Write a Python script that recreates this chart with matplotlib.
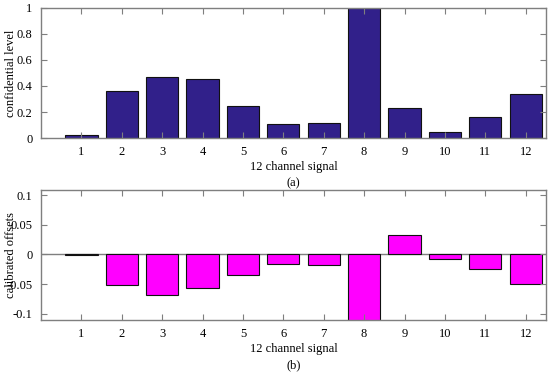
import numpy as np
import matplotlib.pyplot as plt

channels = np.arange(1, 13)
confidence = [0.02, 0.362, 0.47, 0.452, 0.244, 0.105, 0.116, 1.0, 0.231, 0.046, 0.162, 0.337]
offsets = [-0.001, -0.052, -0.068, -0.057, -0.035, -0.016, -0.017, -0.12, 0.033, -0.0073, -0.024, -0.049]

plt.rcParams['font.family'] = ['Liberation Serif', 'DejaVu Serif']
plt.rcParams['font.size'] = 9

fig = plt.figure(figsize=(5.5, 3.73), dpi=100)
ax1 = fig.add_axes([0.0745, 0.630, 0.918, 0.3486])
ax2 = fig.add_axes([0.0745, 0.1429, 0.918, 0.3477])

spine_col = '#7f7f7f'

def style(ax):
    for s in ax.spines.values():
        s.set_color(spine_col)
        s.set_linewidth(1.0)
    ax.tick_params(direction='in', top=True, right=True, length=4,
                   color=spine_col, labelsize=9, pad=6)
    ax.set_xlim(0, 12.5)
    ax.set_xticks(channels)
    ax.yaxis.set_label_coords(-0.047, 0.5)

# (a) confidential level
ax1.bar(channels, confidence, width=0.8, color='#31208a', edgecolor='#111111', linewidth=0.8)
style(ax1)
ax1.set_ylim(0, 1)
ax1.set_yticks([0, 0.2, 0.4, 0.6, 0.8, 1])
ax1.set_yticklabels(['0', '0.2', '0.4', '0.6', '0.8', '1'])
ax1.set_ylabel('confidential level')
ax1.set_xlabel('12 channel signal\n(a)', labelpad=2, linespacing=1.45)

# (b) calibrated offsets
ax2.bar(channels, offsets, width=0.8, color='#ff00ff', edgecolor='#111111', linewidth=0.8)
ax2.axhline(0, color=spine_col, linewidth=1.0, zorder=0.5)
style(ax2)
ax2.set_ylim(-0.1096, 0.1084)
ax2.set_yticks([-0.1, -0.05, 0, 0.05, 0.1])
ax2.set_yticklabels(['-0.1', '-0.05', '0', '0.05', '0.1'])
ax2.set_ylabel('calibrated offsets')
ax2.set_xlabel('12 channel signal\n(b)', labelpad=2, linespacing=1.45)

plt.savefig('out.png', dpi=100)
